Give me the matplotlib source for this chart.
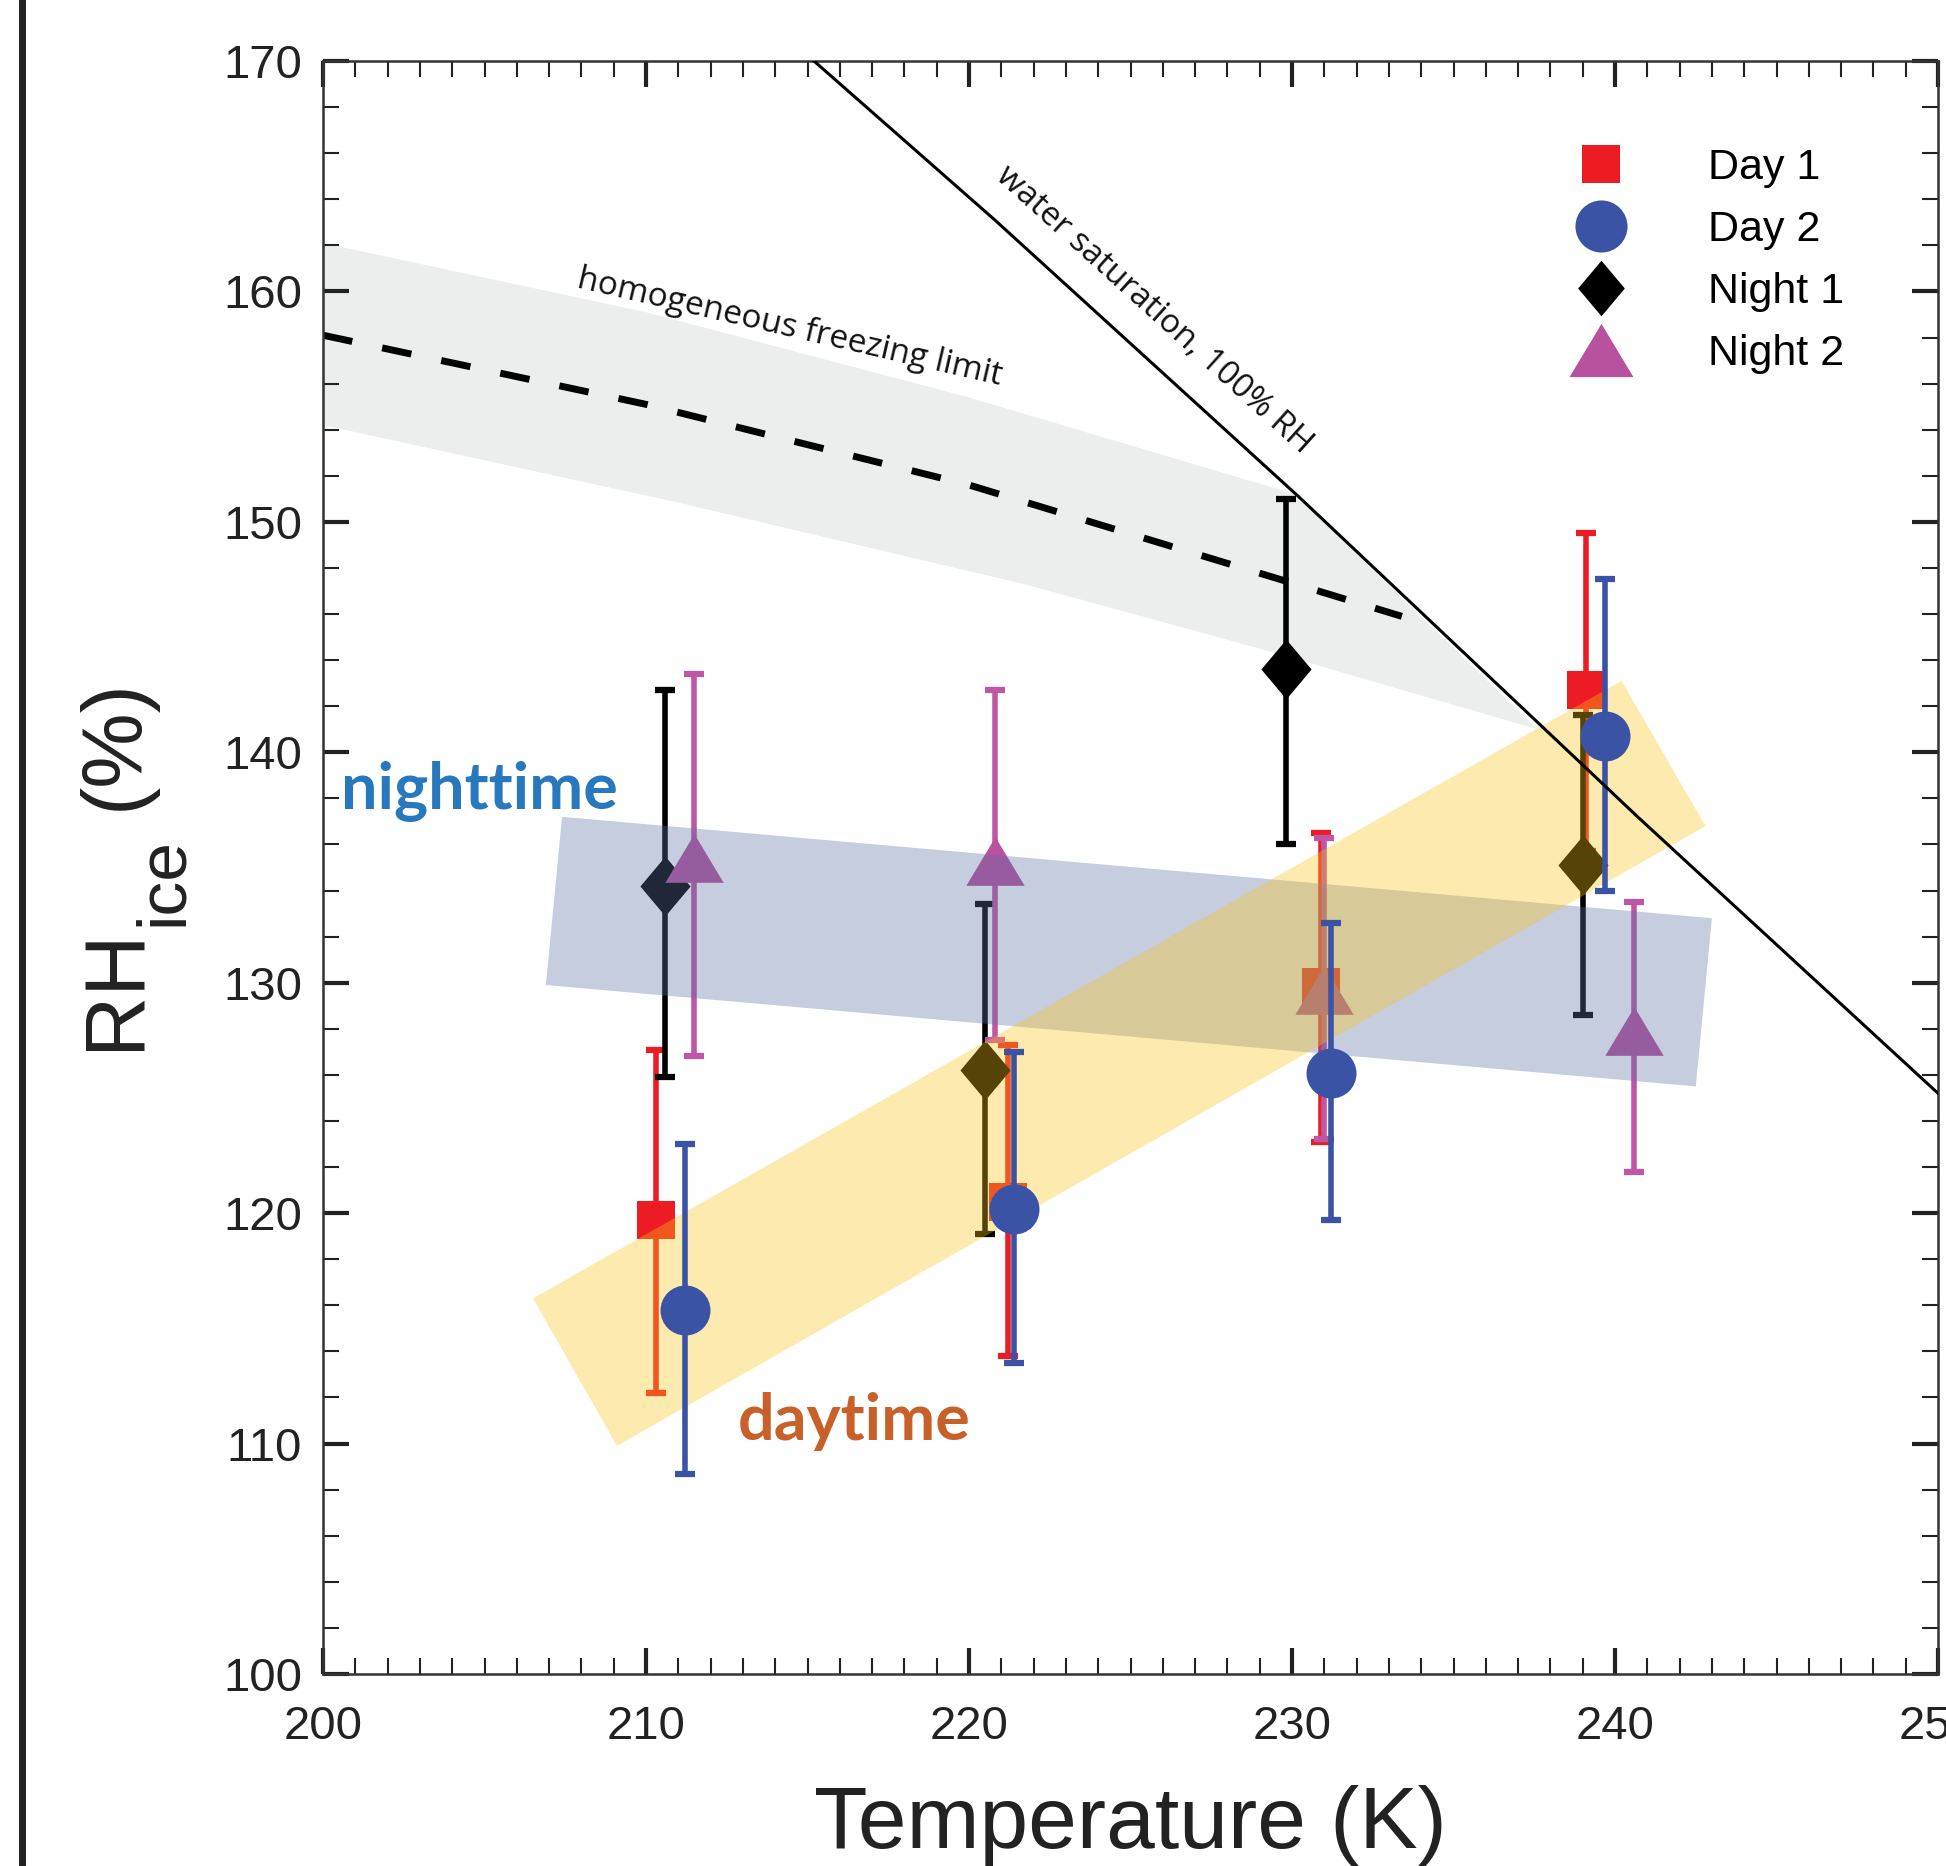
import matplotlib
matplotlib.use('Agg')
import matplotlib.pyplot as plt
from matplotlib.lines import Line2D
from matplotlib.patches import Polygon
from matplotlib.ticker import MultipleLocator
import numpy as np

plt.rcParams['font.family'] = ['Liberation Sans', 'DejaVu Sans']

# ---- measurements (temperature K, RH_ice %) ----
day1_t = [210.3, 221.2, 230.9, 239.1]
day1_rh = [119.7, 120.5, 129.8, 142.7]
day1_lo = [112.2, 113.8, 123.1, 135.7]
day1_hi = [127.1, 127.3, 136.5, 149.5]

day2_t = [211.2, 221.4, 231.2, 239.7]
day2_rh = [115.8, 120.2, 126.1, 140.7]
day2_lo = [108.7, 113.5, 119.7, 134.0]
day2_hi = [123.0, 127.0, 132.6, 147.5]

night1_t = [210.6, 220.5, 229.8, 239.0]
night1_rh = [134.2, 126.2, 143.6, 135.1]
night1_lo = [125.9, 119.1, 136.0, 128.6]
night1_hi = [142.7, 133.4, 151.0, 141.6]

night2_t = [211.5, 220.8, 231.0, 240.6]
night2_rh = [135.4, 135.3, 129.7, 127.9]
night2_lo = [126.8, 127.5, 123.2, 121.8]
night2_hi = [143.4, 142.7, 136.3, 133.5]

# ---- reference curves and shaded regions ----
wsat_t = [215.2, 220.8, 230.2, 240.7, 250.0]
wsat_rh = [170.0, 163.1, 151.1, 137.2, 125.2]

hom_t = [200.0, 210.0, 220.0, 233.4]
hom_rh = [158.1, 155.1, 151.6, 145.9]

hom_up_t = [200.0, 210.0, 220.0, 230.1]
hom_up_rh = [162.1, 159.1, 155.4, 151.2]
hom_lo_t = [237.6, 229.0, 221.7, 210.8, 200.0]
hom_lo_rh = [141.0, 144.5, 147.3, 150.9, 154.2]

night_band_t = [207.4, 243.0, 242.5, 206.9]
night_band_rh = [137.2, 132.8, 125.5, 129.9]
day_band_t = [206.5, 240.2, 242.8, 209.1]
day_band_rh = [116.3, 143.1, 136.8, 109.9]

RED = '#ED1C24'
BLUE = '#3A53A4'
MAG = '#B8529E'
MAG_BAR = '#BF56A6'
TXT = '#222222'

diamond = [(0, 1), (0.84, 0), (0, -1), (-0.84, 0)]
triangle = [(0, 1), (-1.2, -1), (1.2, -1)]

fig = plt.figure(figsize=(19.46, 18.66), dpi=100)
ax = fig.add_axes([0.166, 0.1029, 0.8299, 0.8644])

# homogeneous freezing band and line
ax.add_patch(Polygon(list(zip(hom_up_t + hom_lo_t, hom_up_rh + hom_lo_rh)),
                     closed=True, facecolor='#ECEEED', edgecolor='none', zorder=1))
ax.plot(hom_t, hom_rh, color='black', lw=5, linestyle=(0, (4.3, 4.4)), zorder=2)


def draw(t, rh, lo, hi, marker, ms, mcolor, ecolor, z):
    rh = np.array(rh)
    yerr = [rh - np.array(lo), np.array(hi) - rh]
    ax.errorbar(t, rh, yerr=yerr, fmt='none', ecolor=ecolor, elinewidth=4,
                capsize=7, capthick=4.5, zorder=z)
    ax.plot(t, rh, linestyle='none', marker=marker, ms=ms, color=mcolor,
            markeredgewidth=0, zorder=z)


draw(day1_t, day1_rh, day1_lo, day1_hi, 's', 27, RED, RED, 3.0)
draw(night1_t, night1_rh, night1_lo, night1_hi, diamond, 43, 'black', 'black', 3.2)
draw(night2_t, night2_rh, night2_lo, night2_hi, triangle, 42, MAG, MAG_BAR, 3.3)
draw(day2_t, day2_rh, day2_lo, day2_hi, 'o', 36, BLUE, BLUE, 4.5)

# day / night shaded trends (translucent, over the points)
ax.add_patch(Polygon(list(zip(night_band_t, night_band_rh)), closed=True,
                     facecolor=(89 / 255, 112 / 255, 161 / 255), alpha=0.35,
                     edgecolor='none', zorder=4))
ax.add_patch(Polygon(list(zip(day_band_t, day_band_rh)), closed=True,
                     facecolor=(249 / 255, 195 / 255, 24 / 255), alpha=0.35,
                     edgecolor='none', zorder=4.1))

# water saturation line
ax.plot(wsat_t, wsat_rh, color='black', lw=2.2, zorder=5)

ax.text(214.46, 158.41, 'homogeneous freezing limit', family='Open Sans',
        fontsize=24, rotation=-13, ha='center', va='center',
        rotation_mode='anchor', color='#111111', zorder=6)
ax.text(225.73, 159.19, 'water saturation, 100% RH', family='Open Sans',
        fontsize=24, rotation=-42, ha='center', va='center',
        rotation_mode='anchor', color='#111111', zorder=6)
ax.text(200.56, 137.53, 'nighttime', family='Lato', fontweight='bold',
        fontsize=46.5, color='#2878BE', ha='left', va='baseline', zorder=6)
ax.text(212.85, 110.15, 'daytime', family='Lato', fontweight='bold',
        fontsize=46.5, color='#C8602A', ha='left', va='baseline', zorder=6)

ax.set_xlim(200, 250)
ax.set_ylim(100, 170)
ax.set_xticks(np.arange(200, 251, 10))
ax.set_yticks(np.arange(100, 171, 10))
ax.xaxis.set_minor_locator(MultipleLocator(1))
ax.yaxis.set_minor_locator(MultipleLocator(2))
ax.tick_params(which='both', direction='in', top=True, right=True,
               color=TXT)
ax.tick_params(which='major', length=19, width=3, labelsize=34,
               labelcolor=TXT)
ax.tick_params(which='minor', length=11.5, width=1.5)
ax.tick_params(axis='x', which='major', pad=22)
ax.tick_params(axis='y', which='major', pad=15)
for sp in ax.spines.values():
    sp.set_linewidth(1.8)
    sp.set_color('#333333')

ax.set_xlabel('Temperature (K)', fontsize=63, color=TXT)
ax.xaxis.set_label_coords(0.5, -0.069)

# y label built from pieces: large "ice" subscript as in the original
W, H = 1946.0, 1866.0
fig.text(138 / W, 1 - 1050 / H, 'RH', rotation=90, rotation_mode='anchor',
         ha='left', va='baseline', fontsize=61, color=TXT)
fig.text(182 / W, 1 - 926 / H, 'ice', rotation=90, rotation_mode='anchor',
         ha='left', va='baseline', fontsize=50, color=TXT)
fig.text(138 / W, 1 - 810 / H, '(%)', rotation=90, rotation_mode='anchor',
         ha='left', va='baseline', fontsize=61, color=TXT)

handles = [
    Line2D([], [], linestyle='none', marker='s', ms=28, color=RED, markeredgewidth=0),
    Line2D([], [], linestyle='none', marker='o', ms=37.5, color=BLUE, markeredgewidth=0),
    Line2D([], [], linestyle='none', marker=diamond, ms=40, color='black', markeredgewidth=0),
    Line2D([], [], linestyle='none', marker=triangle, ms=46, color=MAG, markeredgewidth=0),
]
ax.legend(handles, ['Day 1', 'Day 2', 'Night 1', 'Night 2'], loc='upper left',
          bbox_to_anchor=(0.8004, 0.9207), bbox_transform=fig.transFigure,
          frameon=False, fontsize=31, handlelength=2, handletextpad=1.5,
          labelspacing=0.51, borderpad=0, borderaxespad=0)

# thick frame line at the left edge
fig.add_artist(Line2D([0.0113, 0.0113], [0, 1], transform=fig.transFigure,
                      color=TXT, lw=5))

fig.savefig('out.png', dpi=100)
